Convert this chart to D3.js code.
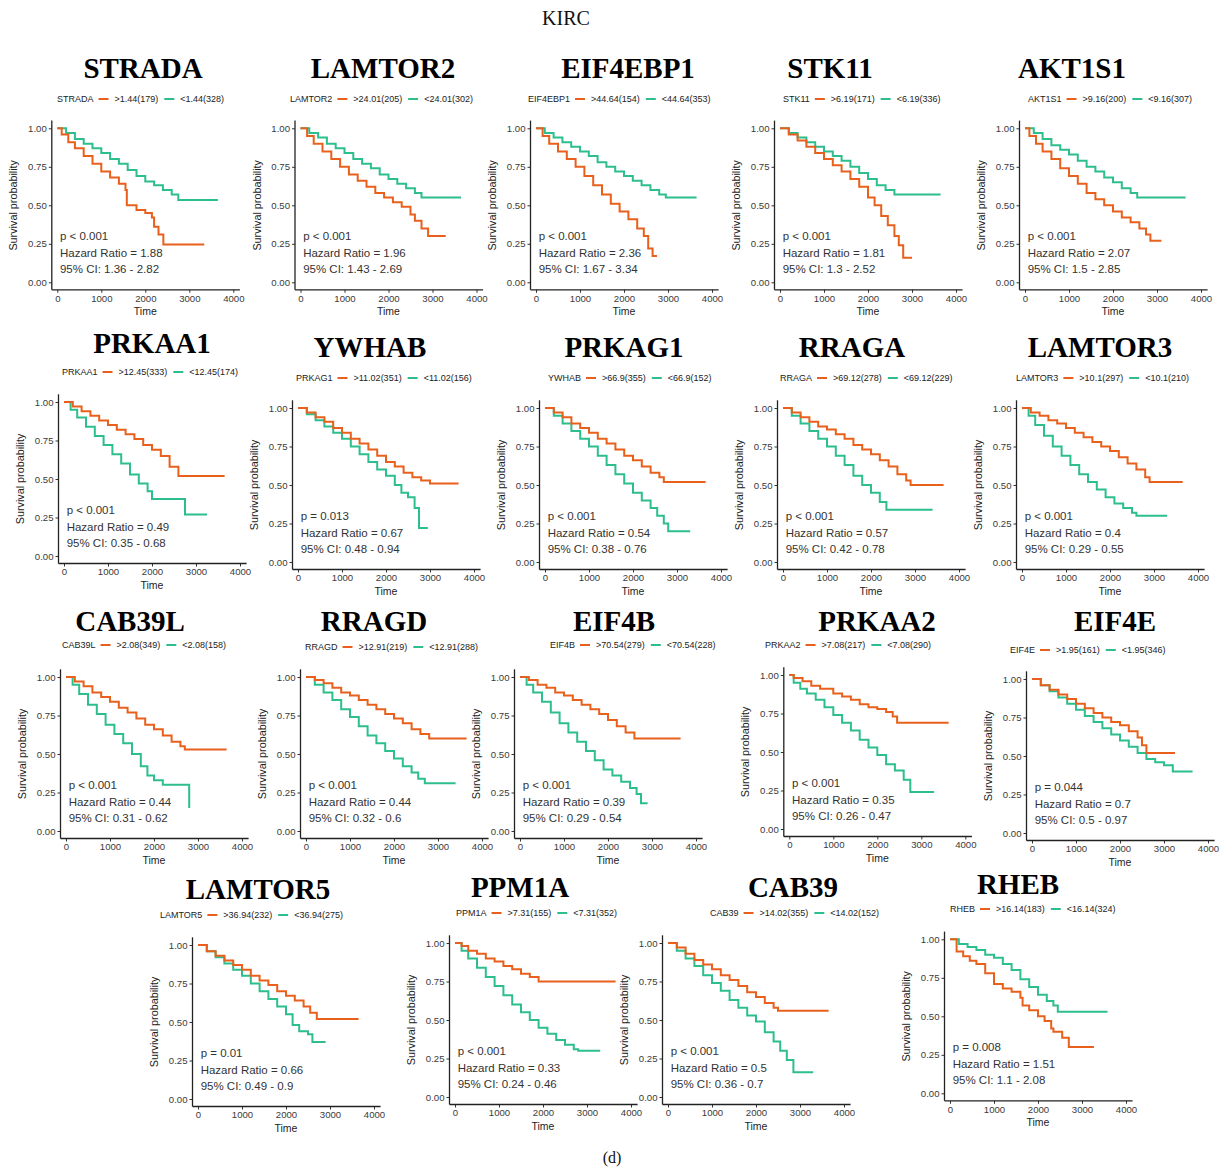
<!DOCTYPE html>
<html>
<head>
<meta charset="utf-8">
<script src="https://cdn.jsdelivr.net/npm/d3@7"></script>
<style>
  html, body { margin: 0; padding: 0; background: #fff; }
  svg { display: block; }
</style>
</head>
<body>
<script>
// Kaplan–Meier survival curves for mTOR-pathway genes in KIRC (high vs low expression)

const titles = ["STRADA","LAMTOR2","EIF4EBP1","STK11","AKT1S1",
  "PRKAA1","YWHAB","PRKAG1","RRAGA","LAMTOR3",
  "CAB39L","RRAGD","EIF4B","PRKAA2","EIF4E",
  "LAMTOR5","PPM1A","CAB39","RHEB"];

const legendGenes = ["STRADA","LAMTOR2","EIF4EBP1","STK11","AKT1S1",
  "PRKAA1","PRKAG1","YWHAB","RRAGA","LAMTOR3",
  "CAB39L","RRAGD","EIF4B","PRKAA2","EIF4E",
  "LAMTOR5","PPM1A","CAB39","RHEB"];

const highLabels = [">1.44(179)",">24.01(205)",">44.64(154)",">6.19(171)",">9.16(200)",
  ">12.45(333)",">11.02(351)",">66.9(355)",">69.12(278)",">10.1(297)",
  ">2.08(349)",">12.91(219)",">70.54(279)",">7.08(217)",">1.95(161)",
  ">36.94(232)",">7.31(155)",">14.02(355)",">16.14(183)"];

const lowLabels = ["<1.44(328)","<24.01(302)","<44.64(353)","<6.19(336)","<9.16(307)",
  "<12.45(174)","<11.02(156)","<66.9(152)","<69.12(229)","<10.1(210)",
  "<2.08(158)","<12.91(288)","<70.54(228)","<7.08(290)","<1.95(346)",
  "<36.94(275)","<7.31(352)","<14.02(152)","<16.14(324)"];

const pTexts = ["p < 0.001","p < 0.001","p < 0.001","p < 0.001","p < 0.001",
  "p < 0.001","p = 0.013","p < 0.001","p < 0.001","p < 0.001",
  "p < 0.001","p < 0.001","p < 0.001","p < 0.001","p = 0.044",
  "p = 0.01","p < 0.001","p < 0.001","p = 0.008"];

const hazardRatios = ["1.88","1.96","2.36","1.81","2.07",
  "0.49","0.67","0.54","0.57","0.4",
  "0.44","0.44","0.39","0.35","0.7",
  "0.66","0.33","0.5","1.51"];

const ciLow  = ["1.36","1.43","1.67","1.3","1.5","0.35","0.48","0.38","0.42","0.29",
  "0.31","0.32","0.29","0.26","0.5","0.49","0.24","0.36","1.1"];
const ciHigh = ["2.82","2.69","3.34","2.52","2.85","0.68","0.94","0.76","0.78","0.55",
  "0.62","0.6","0.54","0.47","0.97","0.9","0.46","0.7","2.08"];

// [time (days), survival probability] at each step of the high-expression group
const highCurves = [
  [[0,1],[100,0.96],[250,0.91],[400,0.87],[600,0.82],[800,0.77],[1000,0.72],[1200,0.68],[1400,0.64],[1550,0.6],[1580,0.5],[1800,0.47],[2000,0.45],[2150,0.42],[2200,0.36],[2300,0.31],[2410,0.245],[3340,0.245]],
  [[0,1],[150,0.95],[300,0.9],[500,0.85],[700,0.8],[900,0.75],[1100,0.7],[1300,0.66],[1500,0.62],[1700,0.58],[1900,0.55],[2100,0.52],[2300,0.49],[2500,0.44],[2600,0.4],[2750,0.35],[2900,0.3],[3300,0.3]],
  [[0,1],[150,0.95],[300,0.9],[500,0.85],[700,0.8],[900,0.75],[1100,0.69],[1300,0.63],[1500,0.57],[1700,0.51],[1900,0.46],[2100,0.41],[2300,0.35],[2450,0.3],[2550,0.22],[2650,0.17],[2750,0.17]],
  [[0,1],[200,0.96],[400,0.92],[600,0.88],[800,0.84],[1000,0.8],[1200,0.76],[1400,0.72],[1600,0.67],[1800,0.62],[2000,0.55],[2150,0.5],[2300,0.43],[2450,0.37],[2600,0.3],[2700,0.24],[2800,0.16],[3000,0.16]],
  [[0,1],[100,0.95],[250,0.9],[400,0.85],[600,0.8],[800,0.74],[1000,0.69],[1200,0.64],[1400,0.58],[1600,0.54],[1800,0.5],[2000,0.46],[2200,0.42],[2400,0.39],[2600,0.35],[2750,0.31],[2850,0.27],[3100,0.27]],
  [[0,1],[200,0.97],[400,0.94],[600,0.91],[800,0.88],[1000,0.85],[1200,0.82],[1400,0.79],[1600,0.76],[1800,0.72],[2000,0.69],[2200,0.65],[2400,0.58],[2600,0.52],[3650,0.52]],
  [[0,1],[200,0.97],[400,0.94],[600,0.91],[800,0.87],[1000,0.84],[1200,0.8],[1400,0.77],[1600,0.73],[1800,0.69],[2000,0.65],[2200,0.62],[2400,0.58],[2600,0.55],[2800,0.53],[3000,0.51],[3650,0.51]],
  [[0,1],[200,0.97],[400,0.94],[600,0.9],[800,0.87],[1000,0.84],[1200,0.8],[1400,0.77],[1600,0.73],[1800,0.69],[2000,0.66],[2200,0.62],[2400,0.58],[2600,0.55],[2700,0.52],[3650,0.52]],
  [[0,1],[200,0.97],[400,0.94],[600,0.91],[800,0.88],[1000,0.86],[1200,0.83],[1400,0.8],[1600,0.76],[1800,0.73],[2000,0.7],[2200,0.66],[2400,0.62],[2600,0.57],[2800,0.53],[2900,0.5],[3650,0.5]],
  [[0,1],[200,0.97],[400,0.95],[600,0.92],[800,0.9],[1000,0.87],[1200,0.84],[1400,0.81],[1600,0.78],[1800,0.75],[2000,0.72],[2200,0.68],[2400,0.64],[2600,0.6],[2800,0.55],[2900,0.52],[3650,0.52]],
  [[0,1],[200,0.97],[400,0.94],[600,0.9],[800,0.87],[1000,0.84],[1200,0.8],[1400,0.77],[1600,0.73],[1800,0.69],[2000,0.66],[2200,0.62],[2400,0.58],[2600,0.55],[2700,0.53],[3650,0.53]],
  [[0,1],[200,0.98],[400,0.96],[600,0.93],[800,0.9],[1000,0.88],[1200,0.85],[1400,0.82],[1600,0.79],[1800,0.76],[2000,0.73],[2200,0.7],[2400,0.66],[2600,0.63],[2800,0.6],[3650,0.6]],
  [[0,1],[200,0.98],[400,0.95],[600,0.93],[800,0.9],[1000,0.88],[1200,0.85],[1400,0.82],[1600,0.79],[1800,0.76],[2000,0.72],[2200,0.68],[2400,0.64],[2600,0.6],[3650,0.6]],
  [[0,1],[100,0.98],[300,0.96],[500,0.93],[700,0.91],[1000,0.88],[1200,0.86],[1400,0.84],[1600,0.81],[1800,0.79],[2000,0.78],[2200,0.76],[2350,0.73],[2450,0.69],[3620,0.69]],
  [[0,1],[200,0.96],[400,0.93],[600,0.9],[800,0.87],[1000,0.84],[1200,0.81],[1400,0.78],[1600,0.75],[1800,0.72],[2000,0.7],[2200,0.66],[2400,0.62],[2500,0.57],[2600,0.52],[3250,0.52]],
  [[0,1],[200,0.96],[400,0.93],[600,0.9],[800,0.87],[1000,0.84],[1200,0.8],[1400,0.77],[1600,0.74],[1800,0.7],[2000,0.67],[2200,0.64],[2400,0.6],[2550,0.56],[2700,0.52],[3650,0.52]],
  [[0,1],[150,0.98],[300,0.95],[500,0.93],[700,0.9],[900,0.88],[1100,0.85],[1300,0.83],[1500,0.8],[1700,0.78],[1900,0.75],[3650,0.75]],
  [[0,1],[200,0.97],[400,0.93],[600,0.89],[800,0.86],[1000,0.83],[1200,0.79],[1400,0.76],[1600,0.72],[1800,0.68],[2000,0.65],[2200,0.61],[2400,0.58],[2500,0.56],[3650,0.56]],
  [[0,1],[150,0.92],[300,0.89],[450,0.86],[600,0.84],[800,0.78],[1000,0.71],[1200,0.68],[1400,0.66],[1600,0.62],[1650,0.57],[1800,0.54],[2000,0.5],[2150,0.47],[2300,0.42],[2350,0.4],[2550,0.36],[2700,0.3],[3270,0.3]]
];

// [time (days), survival probability] at each step of the low-expression group
const lowCurves = [
  [[0,1],[200,0.97],[400,0.93],[600,0.9],[800,0.87],[1000,0.84],[1200,0.8],[1400,0.77],[1600,0.73],[1800,0.69],[2000,0.655],[2200,0.63],[2400,0.6],[2600,0.57],[2750,0.535],[3650,0.535]],
  [[0,1],[200,0.97],[400,0.94],[600,0.9],[800,0.87],[1000,0.84],[1200,0.8],[1400,0.77],[1600,0.74],[1800,0.7],[2000,0.67],[2200,0.64],[2400,0.61],[2600,0.58],[2750,0.55],[3650,0.55]],
  [[0,1],[200,0.97],[400,0.94],[600,0.91],[800,0.88],[1000,0.85],[1200,0.82],[1400,0.78],[1600,0.75],[1800,0.72],[2000,0.69],[2200,0.66],[2400,0.63],[2600,0.6],[2800,0.57],[2950,0.55],[3650,0.55]],
  [[0,1],[200,0.97],[400,0.94],[600,0.91],[800,0.88],[1000,0.85],[1200,0.82],[1400,0.79],[1600,0.75],[1800,0.71],[2000,0.67],[2200,0.63],[2400,0.6],[2600,0.57],[3650,0.57]],
  [[0,1],[200,0.97],[400,0.93],[600,0.89],[800,0.86],[1000,0.83],[1200,0.79],[1400,0.75],[1600,0.72],[1800,0.68],[2000,0.65],[2200,0.61],[2400,0.58],[2550,0.55],[3650,0.55]],
  [[0,1],[150,0.95],[300,0.9],[500,0.84],[700,0.78],[900,0.72],[1100,0.66],[1300,0.6],[1500,0.53],[1700,0.47],[1900,0.42],[2000,0.37],[2700,0.37],[2750,0.27],[3250,0.27]],
  [[0,1],[200,0.96],[400,0.92],[600,0.88],[800,0.84],[1000,0.8],[1200,0.75],[1400,0.7],[1600,0.65],[1800,0.6],[2000,0.56],[2200,0.5],[2350,0.45],[2500,0.42],[2650,0.35],[2750,0.22],[2950,0.22]],
  [[0,1],[200,0.95],[400,0.9],[600,0.85],[800,0.8],[1000,0.75],[1200,0.69],[1400,0.63],[1600,0.57],[1800,0.51],[2000,0.45],[2200,0.4],[2400,0.35],[2550,0.3],[2700,0.25],[2800,0.2],[3300,0.2]],
  [[0,1],[200,0.95],[400,0.9],[600,0.85],[800,0.8],[1000,0.75],[1200,0.69],[1400,0.63],[1600,0.56],[1800,0.5],[2000,0.45],[2200,0.39],[2350,0.34],[3400,0.34]],
  [[0,1],[150,0.95],[300,0.89],[500,0.82],[700,0.75],[900,0.69],[1100,0.63],[1300,0.57],[1500,0.52],[1700,0.47],[1900,0.42],[2100,0.38],[2300,0.35],[2500,0.32],[2600,0.3],[3300,0.3]],
  [[0,1],[150,0.95],[300,0.89],[500,0.82],[700,0.76],[900,0.69],[1100,0.63],[1300,0.57],[1500,0.5],[1700,0.42],[1850,0.36],[2000,0.33],[2200,0.3],[2750,0.3],[2800,0.15]],
  [[0,1],[200,0.95],[400,0.9],[600,0.85],[800,0.79],[1000,0.74],[1200,0.68],[1400,0.62],[1600,0.57],[1800,0.52],[2000,0.47],[2200,0.42],[2400,0.38],[2550,0.34],[2700,0.31],[3400,0.31]],
  [[0,1],[150,0.95],[300,0.9],[500,0.84],[700,0.77],[900,0.7],[1100,0.64],[1300,0.58],[1500,0.52],[1700,0.46],[1900,0.4],[2100,0.36],[2300,0.32],[2500,0.28],[2650,0.24],[2750,0.18],[2900,0.18]],
  [[0,1],[100,0.95],[250,0.91],[400,0.88],[600,0.84],[800,0.79],[1000,0.74],[1200,0.69],[1400,0.64],[1600,0.58],[1800,0.53],[2000,0.48],[2200,0.42],[2400,0.38],[2600,0.32],[2750,0.24],[3290,0.24]],
  [[0,1],[200,0.96],[400,0.92],[600,0.88],[800,0.84],[1000,0.8],[1200,0.76],[1400,0.72],[1600,0.68],[1800,0.64],[2000,0.6],[2200,0.56],[2400,0.52],[2600,0.48],[2800,0.46],[3000,0.44],[3200,0.4],[3650,0.4]],
  [[0,1],[200,0.96],[400,0.92],[600,0.88],[800,0.84],[1000,0.8],[1200,0.75],[1400,0.7],[1600,0.65],[1800,0.6],[2000,0.55],[2150,0.48],[2300,0.44],[2500,0.42],[2600,0.37],[2900,0.37]],
  [[0,1],[150,0.95],[300,0.9],[500,0.84],[700,0.78],[900,0.72],[1100,0.66],[1300,0.6],[1500,0.55],[1700,0.5],[1900,0.45],[2100,0.41],[2300,0.37],[2500,0.34],[2700,0.31],[2800,0.3],[3300,0.3]],
  [[0,1],[200,0.95],[400,0.9],[600,0.85],[800,0.79],[1000,0.74],[1200,0.69],[1400,0.63],[1600,0.58],[1800,0.53],[2000,0.49],[2200,0.42],[2400,0.36],[2550,0.3],[2700,0.24],[2850,0.16],[3300,0.16]],
  [[0,1],[200,0.97],[400,0.95],[600,0.93],[800,0.9],[1000,0.88],[1200,0.84],[1400,0.8],[1600,0.74],[1800,0.69],[2000,0.64],[2200,0.6],[2350,0.57],[2450,0.53],[3580,0.53]]
];

const timeTicks = [0, 1000, 2000, 3000, 4000];
const survTicks = [0, 0.25, 0.5, 0.75, 1];

// Panel placement: origin of the time axis (x0), y of survival 1.00 (y1),
// title centre (tx, ty) and legend start (lx, ly)
const panelLayout = [
  {x0: 57.3, y1: 128.3, tx: 143, ty: 68, lx: 57, ly: 99},
  {x0: 300.5, y1: 128.3, tx: 383, ty: 68, lx: 290, ly: 99},
  {x0: 536, y1: 128.3, tx: 628, ty: 68, lx: 528, ly: 99},
  {x0: 780, y1: 128.3, tx: 830, ty: 68, lx: 783, ly: 99},
  {x0: 1025, y1: 128.3, tx: 1072, ty: 68, lx: 1028, ly: 99},
  {x0: 64, y1: 402, tx: 152, ty: 343, lx: 62, ly: 372},
  {x0: 298, y1: 408, tx: 370, ty: 347, lx: 296, ly: 378},
  {x0: 545, y1: 408, tx: 624, ty: 347, lx: 548, ly: 378},
  {x0: 783, y1: 408, tx: 852, ty: 347, lx: 780, ly: 378},
  {x0: 1022, y1: 408, tx: 1100, ty: 347, lx: 1016, ly: 378},
  {x0: 66, y1: 677, tx: 130, ty: 621, lx: 62, ly: 645},
  {x0: 306, y1: 677, tx: 374, ty: 621, lx: 305, ly: 647},
  {x0: 520, y1: 677, tx: 614, ty: 621, lx: 550, ly: 645},
  {x0: 789.3, y1: 675, tx: 877, ty: 621, lx: 765, ly: 645},
  {x0: 1032, y1: 679, tx: 1115, ty: 621, lx: 1010, ly: 650},
  {x0: 198, y1: 945, tx: 258, ty: 889, lx: 160, ly: 915},
  {x0: 455, y1: 943, tx: 520, ty: 887, lx: 456, ly: 913},
  {x0: 668, y1: 943, tx: 793, ty: 887, lx: 710, ly: 913},
  {x0: 950, y1: 939.3, tx: 1018, ty: 884, lx: 950, ly: 909}
];

const PX_PER_1000 = 44;   // horizontal length of 1000 days
const PLOT_H = 154;       // vertical length of survival 0 → 1
const HIGH_COLOR = "#E8601C";
const LOW_COLOR = "#2DBE8D";
const SANS = "'Liberation Sans', Arial, sans-serif";
const SERIF = "'Liberation Serif', 'Times New Roman', serif";

const svg = d3.select("body").append("svg")
  .attr("width", 1224).attr("height", 1170);
svg.append("rect").attr("width", 1224).attr("height", 1170).attr("fill", "#fff");

svg.append("text").attr("x", 566).attr("y", 25)
  .attr("text-anchor", "middle").attr("font-family", SERIF)
  .attr("font-size", 20).attr("fill", "#111").text("KIRC");

svg.append("text").attr("x", 612).attr("y", 1163)
  .attr("text-anchor", "middle").attr("font-family", SERIF)
  .attr("font-size", 16).attr("fill", "#111").text("(d)");

titles.forEach((title, i) => {
  const L = panelLayout[i];
  const g = svg.append("g");
  const x = d3.scaleLinear().domain([0, 4000]).range([L.x0, L.x0 + 4 * PX_PER_1000]);
  const y = d3.scaleLinear().domain([0, 1]).range([L.y1 + PLOT_H, L.y1]);

  // title
  g.append("text").attr("x", L.tx).attr("y", L.ty + 10)
    .attr("text-anchor", "middle").attr("font-family", SERIF)
    .attr("font-weight", "bold").attr("font-size", 29).attr("fill", "#000")
    .text(title);

  // legend: gene — high group — low group
  const lg = g.append("g").attr("transform", `translate(${L.lx},${L.ly})`)
    .attr("font-family", SANS).attr("font-size", 9).attr("fill", "#222");
  let cx = 0;
  const t1 = lg.append("text").attr("x", cx).attr("y", 3.2).text(legendGenes[i]);
  cx += t1.node().getComputedTextLength() + 5;
  lg.append("line").attr("x1", cx).attr("x2", cx + 10).attr("y1", 0).attr("y2", 0)
    .attr("stroke", HIGH_COLOR).attr("stroke-width", 2);
  cx += 16;
  const t2 = lg.append("text").attr("x", cx).attr("y", 3.2).text(highLabels[i]);
  cx += t2.node().getComputedTextLength() + 6;
  lg.append("line").attr("x1", cx).attr("x2", cx + 10).attr("y1", 0).attr("y2", 0)
    .attr("stroke", LOW_COLOR).attr("stroke-width", 2);
  cx += 16;
  lg.append("text").attr("x", cx).attr("y", 3.2).text(lowLabels[i]);

  // axes
  const axisX0 = L.x0 - 5.5;
  const axisY0 = y(0) + 7.5;
  const yAxis = g.append("g").attr("transform", `translate(${axisX0},0)`)
    .call(d3.axisLeft(y).tickValues(survTicks).tickFormat(d3.format(".2f"))
      .tickSize(3).tickPadding(2));
  const xAxis = g.append("g").attr("transform", `translate(0,${axisY0})`)
    .call(d3.axisBottom(x).tickValues(timeTicks).tickFormat(d3.format("d"))
      .tickSize(3).tickPadding(2));
  [yAxis, xAxis].forEach(a => {
    a.select(".domain").remove();
    a.selectAll("text").attr("font-family", SANS).attr("font-size", 9.6).attr("fill", "#3a3a3a");
    a.selectAll("line").attr("stroke", "#333");
  });
  g.append("line").attr("x1", axisX0).attr("x2", axisX0)
    .attr("y1", y(1.05)).attr("y2", axisY0).attr("stroke", "#222").attr("stroke-width", 1.3);
  g.append("line").attr("x1", axisX0).attr("x2", x(4150))
    .attr("y1", axisY0).attr("y2", axisY0).attr("stroke", "#222").attr("stroke-width", 1.3);

  g.append("text").attr("transform", `translate(${L.x0 - 40},${y(0.5)}) rotate(-90)`)
    .attr("text-anchor", "middle").attr("font-family", SANS).attr("font-size", 10.8)
    .attr("fill", "#222").text("Survival probability");
  g.append("text").attr("x", x(2000)).attr("y", axisY0 + 25)
    .attr("text-anchor", "middle").attr("font-family", SANS).attr("font-size", 10.5)
    .attr("fill", "#222").text("Time");

  // survival step curves
  const line = d3.line().x(d => x(d[0])).y(d => y(d[1])).curve(d3.curveStepAfter);
  g.append("path").datum(lowCurves[i]).attr("d", line)
    .attr("fill", "none").attr("stroke", LOW_COLOR).attr("stroke-width", 2);
  g.append("path").datum(highCurves[i]).attr("d", line)
    .attr("fill", "none").attr("stroke", HIGH_COLOR).attr("stroke-width", 2);

  // statistics
  const stats = [pTexts[i], `Hazard Ratio = ${hazardRatios[i]}`, `95% CI: ${ciLow[i]} - ${ciHigh[i]}`];
  const levels = [0.30, 0.19, 0.085];
  stats.forEach((s, k) => {
    g.append("text").attr("x", x(60)).attr("y", y(levels[k]) + 4)
      .attr("font-family", SANS).attr("font-size", 11.5).attr("fill", "#333").text(s);
  });
});
</script>
</body>
</html>
